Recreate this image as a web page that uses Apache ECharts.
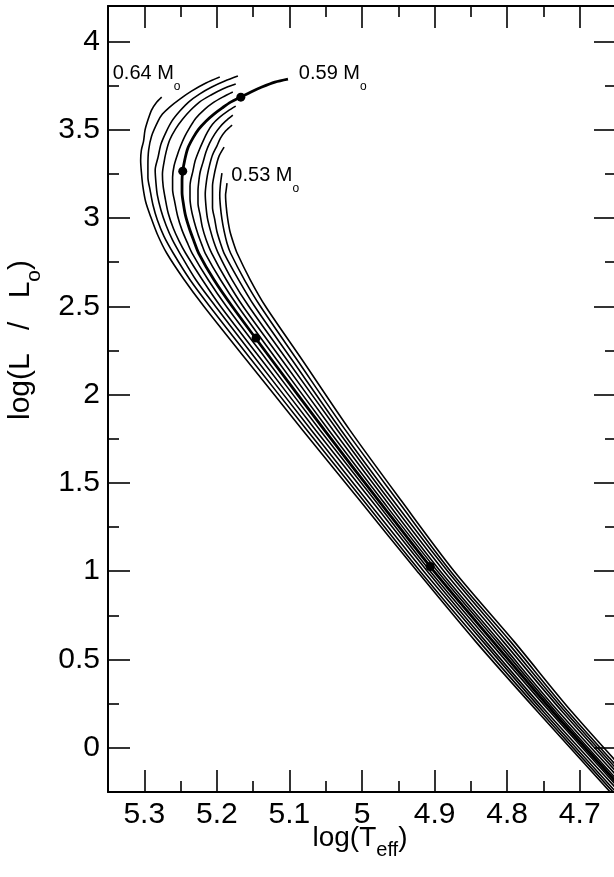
<!DOCTYPE html>
<html><head><meta charset="utf-8">
<script src="https://cdn.jsdelivr.net/npm/echarts@6/dist/echarts.min.js"></script>
<style>html,body{margin:0;padding:0;background:#fff}#c{width:614px;height:877px}</style>
</head><body><div id="c"></div>
<script>
// ---- data (logTeff, logL) ----
const masses = ['0.64','0.63','0.62','0.61','0.60','0.59','0.58','0.57','0.56','0.55','0.54','0.53'];
const track064 = [[5.276,3.684],[5.284,3.650],[5.290,3.611],[5.295,3.554],[5.299,3.497],[5.301,3.435],[5.304,3.384],[5.305,3.327],[5.304,3.260],[5.302,3.180],[5.298,3.090],[5.291,3.005],[5.282,2.908],[5.269,2.8],[5.245,2.65],[5.218,2.5],[5.160,2.2],[5.082,1.8],[5.003,1.4],[4.924,1.0],[4.843,0.6],[4.757,0.2],[4.647,-0.3]];
const track063 = [[5.196,3.798],[5.215,3.764],[5.235,3.718],[5.251,3.673],[5.265,3.628],[5.275,3.588],[5.281,3.548],[5.290,3.463],[5.294,3.384],[5.295,3.299],[5.295,3.231],[5.292,3.158],[5.288,3.073],[5.282,2.988],[5.273,2.897],[5.260,2.8],[5.237,2.65],[5.210,2.5],[5.153,2.2],[5.076,1.8],[4.998,1.4],[4.920,1.0],[4.838,0.6],[4.753,0.2],[4.643,-0.3]];
const track062 = [[5.171,3.803],[5.189,3.775],[5.207,3.741],[5.224,3.701],[5.239,3.656],[5.251,3.605],[5.262,3.548],[5.270,3.486],[5.277,3.418],[5.281,3.344],[5.285,3.271],[5.284,3.203],[5.282,3.129],[5.277,3.044],[5.270,2.959],[5.261,2.874],[5.251,2.8],[5.229,2.65],[5.202,2.5],[5.146,2.2],[5.070,1.8],[4.993,1.4],[4.915,1.0],[4.833,0.6],[4.749,0.2],[4.639,-0.3]];
const track061 = [[5.174,3.758],[5.192,3.730],[5.208,3.696],[5.224,3.656],[5.236,3.611],[5.247,3.560],[5.257,3.503],[5.265,3.441],[5.270,3.373],[5.273,3.311],[5.275,3.248],[5.274,3.180],[5.271,3.107],[5.267,3.027],[5.260,2.942],[5.252,2.869],[5.243,2.8],[5.220,2.65],[5.195,2.5],[5.139,2.2],[5.064,1.8],[4.987,1.4],[4.910,1.0],[4.829,0.6],[4.745,0.2],[4.634,-0.3]];
const track060 = [[5.178,3.713],[5.192,3.684],[5.206,3.650],[5.218,3.611],[5.229,3.565],[5.237,3.514],[5.244,3.463],[5.250,3.407],[5.255,3.350],[5.259,3.294],[5.261,3.231],[5.261,3.163],[5.258,3.090],[5.254,3.010],[5.248,2.931],[5.241,2.863],[5.234,2.8],[5.212,2.65],[5.187,2.5],[5.132,2.2],[5.058,1.8],[4.982,1.4],[4.906,1.0],[4.824,0.6],[4.740,0.2],[4.630,-0.3]];
const track059 = [[5.102,3.786],[5.120,3.769],[5.138,3.741],[5.153,3.713],[5.167,3.684],[5.181,3.656],[5.193,3.622],[5.204,3.588],[5.215,3.548],[5.225,3.503],[5.233,3.452],[5.240,3.395],[5.244,3.333],[5.247,3.265],[5.248,3.214],[5.248,3.146],[5.246,3.078],[5.243,3.010],[5.238,2.942],[5.232,2.874],[5.225,2.8],[5.204,2.65],[5.179,2.5],[5.125,2.2],[5.052,1.8],[4.977,1.4],[4.901,1.0],[4.819,0.6],[4.736,0.2],[4.626,-0.3]];
const track058 = [[5.174,3.633],[5.185,3.605],[5.196,3.571],[5.206,3.531],[5.213,3.486],[5.219,3.435],[5.225,3.378],[5.230,3.322],[5.233,3.265],[5.236,3.214],[5.237,3.180],[5.237,3.112],[5.235,3.044],[5.231,2.976],[5.226,2.908],[5.221,2.852],[5.216,2.8],[5.195,2.65],[5.171,2.5],[5.118,2.2],[5.046,1.8],[4.972,1.4],[4.896,1.0],[4.814,0.6],[4.732,0.2],[4.622,-0.3]];
const track057 = [[5.178,3.582],[5.188,3.548],[5.196,3.514],[5.203,3.475],[5.210,3.424],[5.215,3.373],[5.219,3.316],[5.223,3.260],[5.225,3.203],[5.226,3.152],[5.226,3.084],[5.223,3.016],[5.220,2.948],[5.215,2.880],[5.207,2.8],[5.187,2.65],[5.164,2.5],[5.111,2.2],[5.040,1.8],[4.967,1.4],[4.892,1.0],[4.810,0.6],[4.728,0.2],[4.617,-0.3]];
const track056 = [[5.179,3.526],[5.188,3.492],[5.195,3.452],[5.200,3.407],[5.206,3.356],[5.210,3.299],[5.213,3.243],[5.215,3.186],[5.216,3.135],[5.215,3.067],[5.213,2.999],[5.209,2.931],[5.204,2.863],[5.198,2.8],[5.179,2.65],[5.156,2.5],[5.104,2.2],[5.034,1.8],[4.962,1.4],[4.887,1.0],[4.805,0.6],[4.723,0.2],[4.613,-0.3]];
const track055 = [[5.190,3.401],[5.197,3.350],[5.201,3.294],[5.204,3.237],[5.206,3.180],[5.206,3.129],[5.206,3.061],[5.203,2.993],[5.200,2.925],[5.195,2.857],[5.190,2.8],[5.170,2.65],[5.148,2.5],[5.097,2.2],[5.029,1.8],[4.957,1.4],[4.882,1.0],[4.800,0.6],[4.719,0.2],[4.609,-0.3]];
const track054 = [[5.193,3.254],[5.195,3.192],[5.196,3.129],[5.195,3.061],[5.193,2.993],[5.190,2.925],[5.186,2.857],[5.181,2.8],[5.162,2.65],[5.140,2.5],[5.090,2.2],[5.023,1.8],[4.951,1.4],[4.878,1.0],[4.795,0.6],[4.715,0.2],[4.605,-0.3]];
const track053 = [[5.186,3.197],[5.187,3.163],[5.188,3.129],[5.187,3.061],[5.185,2.993],[5.182,2.925],[5.177,2.857],[5.172,2.8],[5.154,2.65],[5.133,2.5],[5.083,2.2],[5.017,1.8],[4.946,1.4],[4.873,1.0],[4.790,0.6],[4.710,0.2],[4.600,-0.3]];
const dots059 = [[5.167,3.684],[5.247,3.265],[5.146,2.32],[4.906,1.027]];
const labelMasses = ['0.64','0.59','0.53'];
const labelPoints = [[5.3435,3.818],[5.087,3.818],[5.180,3.241]];
const xMajor = [4.7,4.8,4.9,5.0,5.1,5.2,5.3];
const xMajorLabels = ['4.7','4.8','4.9','5','5.1','5.2','5.3'];
const xMinor = [4.75,4.85,4.95,5.05,5.15,5.25];
const yMajor = [0,0.5,1,1.5,2,2.5,3,3.5,4];
const yMajorLabels = ['0','0.5','1','1.5','2','2.5','3','3.5','4'];
const yMinor = [0.25,0.75,1.25,1.75,2.25,2.75,3.25,3.75];
const xTitle = ['log(T','eff',')'];
const yTitle = ['log(L \u2002/\u2002 L','o',')'];

// ---- chart ----
const FONT = "'Liberation Sans', Arial, Helvetica, sans-serif";
const tracks = [track064,track063,track062,track061,track060,track059,track058,track057,track056,track055,track054,track053];
const chart = echarts.init(document.getElementById('c'), null, {renderer:'canvas'});

function lbl(vals, names){ return v => { const i = vals.findIndex(t => Math.abs(t - v) < 1e-6); return i < 0 ? '' : names[i]; }; }
function xAx(pos, ticks, len, withLabel, withLine){
  return {type:'value', position:pos, min:4.65, max:5.35, inverse:true, offset:0,
    axisLine:{show:withLine, onZero:false, lineStyle:{color:'#000', width:2}},
    axisTick:{show:true, inside:true, length:len, customValues:ticks, lineStyle:{color:'#000', width:1.6}},
    axisLabel:{show:withLabel, customValues:ticks, formatter:lbl(xMajor,xMajorLabels), margin:8, color:'#000', fontSize:30, fontFamily:FONT},
    splitLine:{show:false}, minorTick:{show:false}, minorSplitLine:{show:false}};
}
function yAx(pos, ticks, len, withLabel, withLine){
  return {type:'value', position:pos, min:-0.25, max:4.2, offset:0,
    axisLine:{show:withLine, onZero:false, lineStyle:{color:'#000', width:2}},
    axisTick:{show:true, inside:true, length:len, customValues:ticks, lineStyle:{color:'#000', width:1.6}},
    axisLabel:{show:withLabel, customValues:ticks, formatter:lbl(yMajor,yMajorLabels), margin:8, color:'#000', fontSize:30, fontFamily:FONT},
    splitLine:{show:false}, minorTick:{show:false}, minorSplitLine:{show:false}};
}

const series = tracks.map((d, i) => ({
  type:'line', name:masses[i], data:d, xAxisIndex:0, yAxisIndex:0,
  showSymbol:false, symbol:'none', smooth:0.3, silent:true, z:2,
  lineStyle:{color:'#000', width: masses[i] === '0.59' ? 2.8 : 1.6, opacity:1}
}));
series.push({type:'scatter', data:dots059, xAxisIndex:0, yAxisIndex:0, symbol:'circle', symbolSize:9,
  itemStyle:{color:'#000', opacity:1}, silent:true, z:5});
series.push({type:'scatter', xAxisIndex:0, yAxisIndex:0, symbolSize:0, silent:true, z:6,
  itemStyle:{opacity:1},
  data: labelPoints.map((p, i) => ({value:p, name:labelMasses[i]})),
  label:{show:true, position:'right', distance:0, color:'#000', opacity:1,
    formatter: p => '{m|' + p.name + ' M}{s|o}',
    rich:{ m:{fontSize:20, fontFamily:FONT, color:'#000', verticalAlign:'middle'},
           s:{fontSize:12, fontFamily:FONT, color:'#000', verticalAlign:'bottom', lineHeight:38} } }
});

const richTitle = {
  a:{fontSize:28, fontFamily:FONT, fill:'#000', color:'#000', verticalAlign:'middle'},
  b:{fontSize:20, fontFamily:FONT, fill:'#000', color:'#000', verticalAlign:'bottom', lineHeight:45}
};

chart.setOption({
  animation:false,
  backgroundColor:'#fff',
  grid:{left:108, top:6, width:508, height:786, containLabel:false, outerBoundsMode:'none', show:false},
  xAxis:[ xAx('bottom', xMajor, 22, true, true), xAx('bottom', xMinor, 11, false, false),
          xAx('top', xMajor, 22, false, true), xAx('top', xMinor, 11, false, false) ],
  yAxis:[ yAx('left', yMajor, 22, true, true), yAx('left', yMinor, 11, false, false),
          yAx('right', yMajor, 22, false, true), yAx('right', yMinor, 11, false, false) ],
  graphic:[
    {type:'text', x:360, y:838, silent:true,
     style:{text:'{a|' + xTitle[0] + '}{b|' + xTitle[1] + '}{a|' + xTitle[2] + '}', rich:richTitle,
            align:'center', verticalAlign:'middle', textAlign:'center', textVerticalAlign:'middle', fill:'#000'}},
    {type:'text', x:21, y:340, rotation:Math.PI/2, silent:true,
     style:{text:'{a|' + yTitle[0] + '}{b|' + yTitle[1] + '}{a|' + yTitle[2] + '}', rich:{
            a:{fontSize:30, fontFamily:FONT, fill:'#000', color:'#000', verticalAlign:'middle'},
            b:{fontSize:21, fontFamily:FONT, fill:'#000', color:'#000', verticalAlign:'bottom', lineHeight:48}},
            align:'center', verticalAlign:'middle', textAlign:'center', textVerticalAlign:'middle', fill:'#000'}}
  ],
  series: series
});
</script></body></html>
